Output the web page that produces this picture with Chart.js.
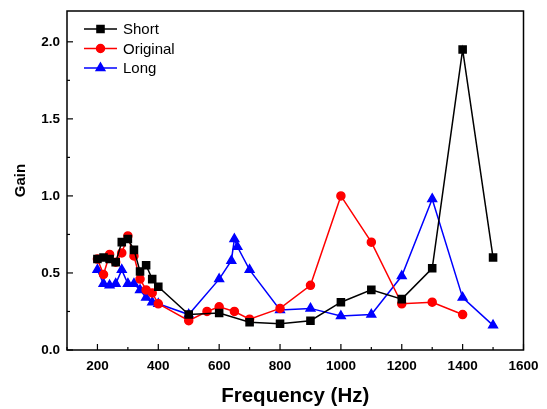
<!DOCTYPE html>
<html>
<head>
<meta charset="utf-8">
<script src="https://cdn.jsdelivr.net/npm/chart.js@4.4.1/dist/chart.umd.min.js"></script>
<style>
  html, body { margin: 0; padding: 0; background: #fff; }
  canvas { display: block; }
</style>
</head>
<body>
<canvas id="myChart" width="547" height="409"></canvas>
<script>
const ctx = document.getElementById("myChart").getContext("2d");

// frequencies (Hz) and gain for each tube
const shortFreq = [200, 220, 240, 260, 280, 300, 320, 340, 360, 380, 400, 500, 600, 700, 800, 900, 1000, 1100, 1200, 1300, 1400, 1500];
const shortGain = [0.59, 0.60, 0.59, 0.57, 0.70, 0.72, 0.65, 0.51, 0.55, 0.46, 0.41, 0.23, 0.24, 0.18, 0.17, 0.19, 0.31, 0.39, 0.33, 0.53, 1.95, 0.60];

const originalFreq = [200, 220, 240, 260, 280, 300, 320, 340, 360, 380, 400, 500, 560, 600, 650, 700, 800, 900, 1000, 1100, 1200, 1300, 1400];
const originalGain = [0.59, 0.49, 0.62, 0.57, 0.63, 0.74, 0.61, 0.46, 0.39, 0.37, 0.30, 0.19, 0.25, 0.28, 0.25, 0.20, 0.27, 0.42, 1.00, 0.70, 0.30, 0.31, 0.23];

const longFreq = [200, 220, 240, 260, 280, 300, 320, 340, 360, 380, 400, 500, 600, 640, 650, 660, 700, 800, 900, 1000, 1100, 1200, 1300, 1400, 1500];
const longGain = [0.52, 0.43, 0.42, 0.43, 0.52, 0.43, 0.43, 0.39, 0.34, 0.31, 0.30, 0.23, 0.46, 0.58, 0.72, 0.67, 0.52, 0.26, 0.27, 0.22, 0.23, 0.48, 0.98, 0.34, 0.16];

const xTicks = [200, 400, 600, 800, 1000, 1200, 1400, 1600];
const yTicks = [0, 0.5, 1.0, 1.5, 2.0];

const toPoints = (xs, ys) => xs.map((x, i) => ({ x: x, y: ys[i] }));

const FONT = "'Liberation Sans', Arial, sans-serif";

// inward ticks, frame and in-plot legend
const framePlugin = {
    id: "frame",
    afterDraw(chart) {
        const c = chart.ctx;
        const a = chart.chartArea;
        const xs = chart.scales.x;
        const ys = chart.scales.y;
        c.save();
        c.strokeStyle = "#000";
        c.lineWidth = 1.5;
        c.strokeRect(a.left, a.top, a.right - a.left, a.bottom - a.top);

        c.lineWidth = 1.2;
        for (let v = 100; v <= 1600; v += 100) {
            const px = xs.getPixelForValue(v);
            const len = v % 200 === 0 ? 6 : 3;
            c.beginPath();
            c.moveTo(px, a.bottom);
            c.lineTo(px, a.bottom - len);
            c.stroke();
        }
        for (let i = 0; i <= 8; i++) {
            const v = i * 0.25;
            const py = ys.getPixelForValue(v);
            const len = i % 2 === 0 ? 6 : 3;
            c.beginPath();
            c.moveTo(a.left, py);
            c.lineTo(a.left + len, py);
            c.stroke();
        }

        // legend
        c.font = "15px " + FONT;
        c.textBaseline = "middle";
        chart.data.datasets.forEach((ds, i) => {
            const y = 29 + i * 19.5;
            c.strokeStyle = ds.borderColor;
            c.fillStyle = ds.backgroundColor;
            c.lineWidth = 1.5;
            c.beginPath();
            c.moveTo(84, y);
            c.lineTo(117, y);
            c.stroke();
            Chart.helpers.drawPoint(c, {
                pointStyle: ds.pointStyle,
                radius: ds.pointRadius,
                rotation: 0,
                borderWidth: 1
            }, 100.5, y);
            c.fillStyle = "#000";
            c.fillText(ds.label, 123, y + 1);
        });
        c.restore();
    }
};

const data = {
    datasets: [
        {
            label: "Short",
            data: toPoints(shortFreq, shortGain),
            borderColor: "#000000",
            backgroundColor: "#000000",
            pointStyle: "rect",
            pointRadius: 5,
            borderWidth: 1.5,
        },
        {
            label: "Original",
            data: toPoints(originalFreq, originalGain),
            borderColor: "#ff0000",
            backgroundColor: "#ff0000",
            pointStyle: "circle",
            pointRadius: 4,
            borderWidth: 1.5,
        },
        {
            label: "Long",
            data: toPoints(longFreq, longGain),
            borderColor: "#0000ff",
            backgroundColor: "#0000ff",
            pointStyle: "triangle",
            pointRadius: 5,
            borderWidth: 1.5,
        },
    ],
};

const config = {
    type: "line",
    data: data,
    plugins: [framePlugin],
    options: {
        responsive: false,
        animation: false,
        layout: { padding: { top: 11, right: 23.5, left: 0, bottom: 0 } },
        plugins: {
            legend: { display: false },
            tooltip: { enabled: false },
        },
        elements: { line: { tension: 0 } },
        scales: {
            x: {
                type: "linear",
                min: 100,
                max: 1600,
                afterBuildTicks: (scale) => { scale.ticks = xTicks.map(v => ({ value: v })); },
                afterFit: (scale) => { scale.height = 59; },
                grid: { display: false, drawTicks: false },
                border: { display: false },
                ticks: {
                    padding: 8,
                    color: "#000",
                    maxRotation: 0,
                    callback: (value) => String(value),
                    font: { family: FONT, size: 13.5, weight: "bold" },
                },
                title: {
                    display: true,
                    text: "Frequency (Hz)",
                    color: "#000",
                    padding: { top: 0, bottom: 0 },
                    font: { family: FONT, size: 20.5, weight: "bold" },
                },
            },
            y: {
                min: 0,
                max: 2.2,
                afterBuildTicks: (scale) => { scale.ticks = yTicks.map(v => ({ value: v })); },
                afterFit: (scale) => {
                    scale.width = 67;
                    scale.paddingTop = 0;
                    scale.paddingBottom = 0;
                },
                grid: { display: false, drawTicks: false },
                border: { display: false },
                ticks: {
                    padding: 7,
                    color: "#000",
                    callback: (value) => value.toFixed(1),
                    font: { family: FONT, size: 13.5, weight: "bold" },
                },
                title: {
                    display: true,
                    text: "Gain",
                    color: "#000",
                    padding: { top: 12, bottom: 0 },
                    font: { family: FONT, size: 15, weight: "bold" },
                },
            },
        },
    },
};

const myChart = new Chart(ctx, config);
</script>
</body>
</html>
